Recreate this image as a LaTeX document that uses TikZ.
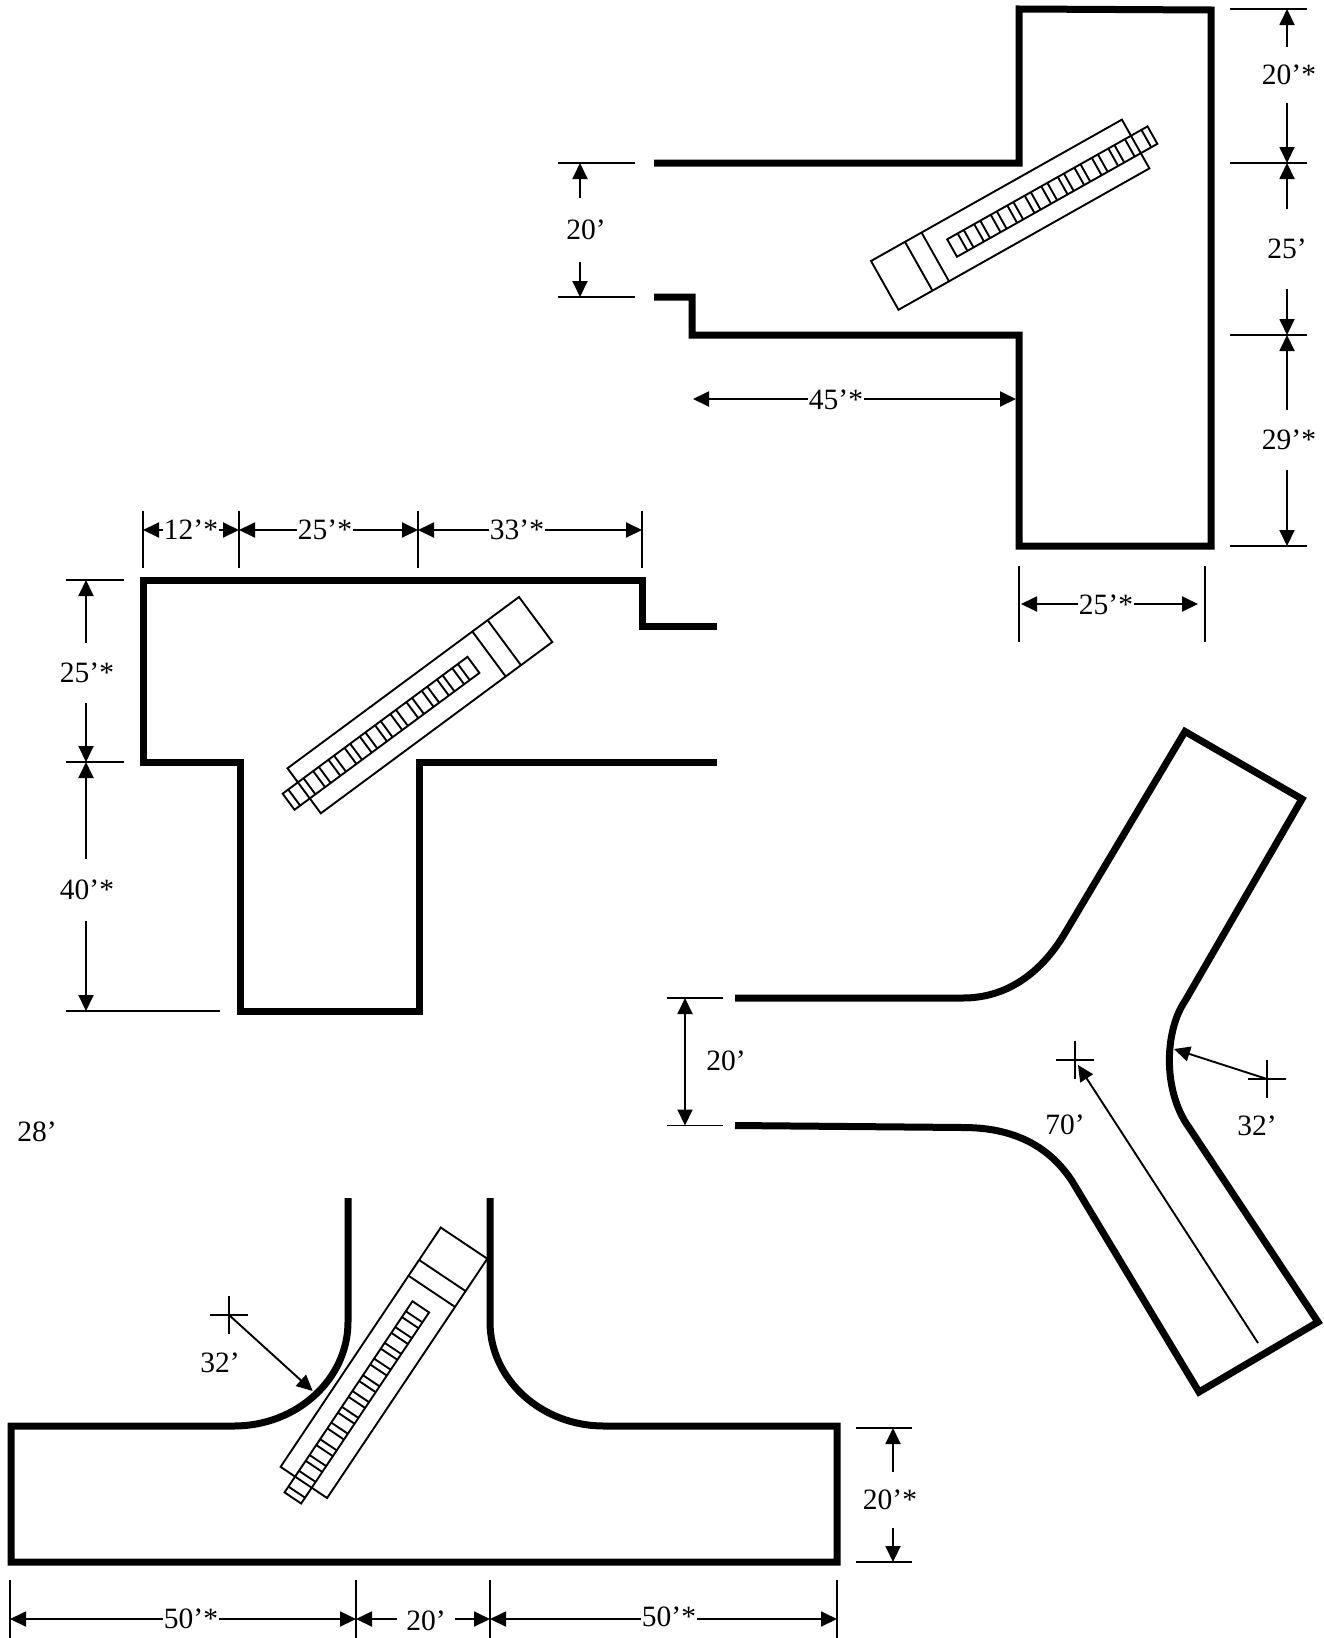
\documentclass[tikz,border=0pt]{standalone}
\usepackage{fontspec}
\setmainfont{Liberation Serif}
\usetikzlibrary{arrows.meta}

\tikzset{
  wall/.style={line width=7pt, line join=miter},
  thinline/.style={line width=1.9pt},
  dimarrow/.style={line width=1.9pt, -{Triangle[length=16pt, width=15pt]}},
  dimlabel/.style={font=\fontsize{29.5}{31}\selectfont, inner xsep=1pt, inner ysep=0pt},
  conveyor/.pic={
    \draw[thinline] (0,0) rectangle (288,56);
    \draw[thinline] (39,0) -- (39,56);
    \draw[thinline] (58,0) -- (58,56);
    \draw[thinline] (77,18.5) rectangle (307,38.5);
    \foreach \u in {89,108,127,146,166,185,204,223,243,262,281,300}
      \draw[thinline] (\u,18.5) -- (\u,38.5);
    \foreach \u in {96,115,134,153,173,192,211,230,250,269}
      \draw[thinline] (\u,18.5) -- (\u,38.5);
  },
  crossmark/.pic={
    \draw[thinline] (0,-19) -- (0,19);
    \draw[thinline] (-19,0) -- (19,0);
  }
}

\begin{document}
\begin{tikzpicture}[x=1pt, y=-1pt]
  \useasboundingbox (0,0) rectangle (1324,1638);

  % Top right: walls
  \draw[wall] (654,163) -- (1019,163) -- (1019,9) -- (1211,10) -- (1211,546)
    -- (1019,546) -- (1019,335) -- (692,335) -- (692,297) -- (654,297);
  \pic[rotate=29.4] at (871,261) {conveyor};
  % Top right: extension lines
  \draw[thinline] (1230,9) -- (1307,9);
  \draw[thinline] (1230,163) -- (1307,163);
  \draw[thinline] (1230,335) -- (1307,335);
  \draw[thinline] (1230,546) -- (1307,546);
  \draw[thinline] (558,163) -- (635,163);
  \draw[thinline] (558,297) -- (635,297);
  \draw[thinline] (1019,566) -- (1019,642);
  \draw[thinline] (1205,566) -- (1205,642);
  % Top right: dimensions
  \node[dimlabel, minimum height=56pt] (rightA) at (1289,75) {20’*};
  \coordinate (rightAa) at (1287,9);
  \coordinate (rightAb) at (1287,163);
  \draw[dimarrow] (rightA.north -| rightAa) -- (rightAa);
  \draw[dimarrow] (rightA.south -| rightAb) -- (rightAb);
  \node[dimlabel, minimum height=80pt] (rightB) at (1287,249) {25’};
  \coordinate (rightBa) at (1287,163);
  \coordinate (rightBb) at (1287,335);
  \draw[dimarrow] (rightB.north -| rightBa) -- (rightBa);
  \draw[dimarrow] (rightB.south -| rightBb) -- (rightBb);
  \node[dimlabel, minimum height=60pt] (rightC) at (1289,440) {29’*};
  \coordinate (rightCa) at (1287,335);
  \coordinate (rightCb) at (1287,546);
  \draw[dimarrow] (rightC.north -| rightCa) -- (rightCa);
  \draw[dimarrow] (rightC.south -| rightCb) -- (rightCb);
  \node[dimlabel, minimum height=64pt] (mouthA) at (586,230) {20’};
  \coordinate (mouthAa) at (580,163);
  \coordinate (mouthAb) at (580,297);
  \draw[dimarrow] (mouthA.north -| mouthAa) -- (mouthAa);
  \draw[dimarrow] (mouthA.south -| mouthAb) -- (mouthAb);
  \node[dimlabel] (runA) at (836,400) {45’*};
  \coordinate (runAa) at (693,399);
  \coordinate (runAb) at (1016,399);
  \draw[dimarrow] (runA.west |- runAa) -- (runAa);
  \draw[dimarrow] (runA.east |- runAb) -- (runAb);
  \node[dimlabel] (footA) at (1106,605) {25’*};
  \coordinate (footAa) at (1021,604);
  \coordinate (footAb) at (1198,604);
  \draw[dimarrow] (footA.west |- footAa) -- (footAa);
  \draw[dimarrow] (footA.east |- footAb) -- (footAb);

  % Left: walls
  \draw[wall] (717,626) -- (642,626) -- (642,580) -- (143,580) -- (143,762)
    -- (240,762) -- (240,1011) -- (419,1011) -- (419,762) -- (717,762);
  \pic[rotate=216.5] at (552.3,642) {conveyor};
  % Left: extension lines
  \draw[thinline] (143,511) -- (143,568);
  \draw[thinline] (239,511) -- (239,568);
  \draw[thinline] (418,511) -- (418,568);
  \draw[thinline] (642,511) -- (642,568);
  \draw[thinline] (66,580) -- (124,580);
  \draw[thinline] (66,762) -- (124,762);
  \draw[thinline] (66,1011) -- (220,1011);
  % Left: dimensions
  \node[dimlabel] (topA) at (191,530) {12’*};
  \coordinate (topAa) at (143,530);
  \coordinate (topAb) at (239,530);
  \draw[dimarrow] (topA.west |- topAa) -- (topAa);
  \draw[dimarrow] (topA.east |- topAb) -- (topAb);
  \node[dimlabel] (topB) at (325,530) {25’*};
  \coordinate (topBa) at (239,530);
  \coordinate (topBb) at (418,530);
  \draw[dimarrow] (topB.west |- topBa) -- (topBa);
  \draw[dimarrow] (topB.east |- topBb) -- (topBb);
  \node[dimlabel] (topC) at (517,530) {33’*};
  \coordinate (topCa) at (418,530);
  \coordinate (topCb) at (642,530);
  \draw[dimarrow] (topC.west |- topCa) -- (topCa);
  \draw[dimarrow] (topC.east |- topCb) -- (topCb);
  \node[dimlabel, minimum height=60pt] (sideA) at (87,673) {25’*};
  \coordinate (sideAa) at (86,580);
  \coordinate (sideAb) at (86,762);
  \draw[dimarrow] (sideA.north -| sideAa) -- (sideAa);
  \draw[dimarrow] (sideA.south -| sideAb) -- (sideAb);
  \node[dimlabel, minimum height=62pt] (sideB) at (87,890) {40’*};
  \coordinate (sideBa) at (86,762);
  \coordinate (sideBb) at (86,1011);
  \draw[dimarrow] (sideB.north -| sideBa) -- (sideBa);
  \draw[dimarrow] (sideB.south -| sideBb) -- (sideBb);
  \node[dimlabel] (loose) at (37,1132) {28’};

  % Right: curved walls
  \draw[wall] (735,998) -- (963,998) .. controls (1005,998) and (1040,975) .. (1065,933)
    -- (1185,731.5) -- (1302,799) -- (1185,1001)
    .. controls (1165,1030) and (1162,1090) .. (1189,1127.5)
    -- (1318,1322) -- (1199,1392) -- (1072,1181)
    .. controls (1045,1140) and (1005,1127.5) .. (963,1127.5) -- (735,1125.5);
  % Right: dimensions
  \draw[thinline] (667,998) -- (723,998);
  \draw[thinline] (667,1125.5) -- (723,1125.5);
  \coordinate (mouthBa) at (685,998);
  \coordinate (mouthBb) at (685,1125.5);
  \draw[dimarrow, {Triangle[length=16pt, width=15pt]}-{Triangle[length=16pt, width=15pt]}] (mouthBa) -- (mouthBb);
  \node[dimlabel] (mouthB) at (726,1061) {20’};
  \pic at (1075,1060) {crossmark};
  \pic at (1267,1079) {crossmark};
  \coordinate (centreA) at (1078,1065);
  \coordinate (startA) at (1258,1343);
  \coordinate (centreB) at (1267,1079);
  \coordinate (endB) at (1174,1049);
  \draw[dimarrow] (startA) -- (centreA);
  \draw[dimarrow] (centreB) -- (endB);
  \node[dimlabel] (radA) at (1065,1125) {70’};
  \node[dimlabel] (radB) at (1257,1126) {32’};

  % Bottom: walls
  \draw[wall] (348,1198) -- (348,1322) .. controls (348,1379) and (297,1426) .. (234,1426)
    -- (11,1426) -- (11,1562) -- (837,1562) -- (837,1426) -- (604,1426)
    .. controls (541,1426) and (490,1379) .. (490,1322) -- (490,1198);
  \pic[rotate=236.2] at (487.3,1258.7) {conveyor};
  \pic at (229,1315) {crossmark};
  \coordinate (centreC) at (229,1315);
  \coordinate (endC) at (312.7,1391);
  \draw[dimarrow] (centreC) -- (endC);
  \node[dimlabel] (radC) at (220,1363) {32’};
  % Bottom: extension lines
  \draw[thinline] (856,1428) -- (912,1428);
  \draw[thinline] (856,1562) -- (912,1562);
  \draw[thinline] (10,1580) -- (10,1638);
  \draw[thinline] (356,1580) -- (356,1638);
  \draw[thinline] (490,1580) -- (490,1638);
  \draw[thinline] (837,1580) -- (837,1638);
  % Bottom: dimensions
  \node[dimlabel, minimum height=56pt] (endA) at (890,1500) {20’*};
  \coordinate (endAa) at (893,1428);
  \coordinate (endAb) at (893,1562);
  \draw[dimarrow] (endA.north -| endAa) -- (endAa);
  \draw[dimarrow] (endA.south -| endAb) -- (endAb);
  \node[dimlabel] (baseA) at (191,1619) {50’*};
  \coordinate (baseAa) at (10,1619);
  \coordinate (baseAb) at (356,1619);
  \draw[dimarrow] (baseA.west |- baseAa) -- (baseAa);
  \draw[dimarrow] (baseA.east |- baseAb) -- (baseAb);
  \node[dimlabel, inner xsep=9pt] (baseB) at (426,1621) {20’};
  \coordinate (baseBa) at (356,1619);
  \coordinate (baseBb) at (490,1619);
  \draw[dimarrow] (baseB.west |- baseBa) -- (baseBa);
  \draw[dimarrow] (baseB.east |- baseBb) -- (baseBb);
  \node[dimlabel] (baseC) at (669,1617) {50’*};
  \coordinate (baseCa) at (490,1619);
  \coordinate (baseCb) at (837,1619);
  \draw[dimarrow] (baseC.west |- baseCa) -- (baseCa);
  \draw[dimarrow] (baseC.east |- baseCb) -- (baseCb);
\end{tikzpicture}
\end{document}
